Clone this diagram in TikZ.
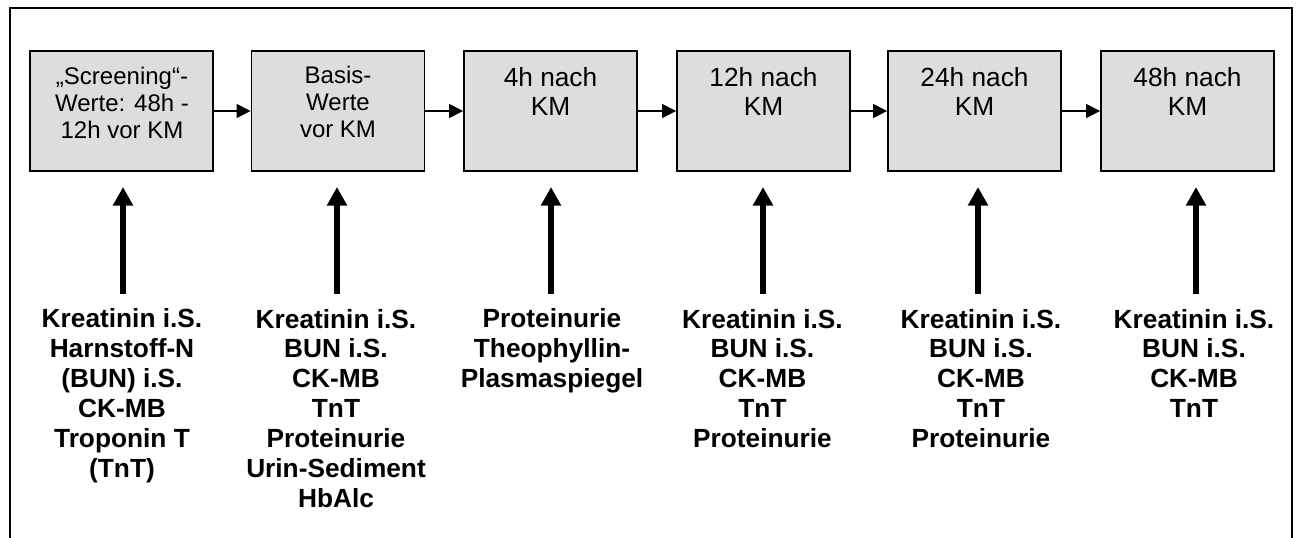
\documentclass[tikz,border=0pt]{standalone}
\usepackage{fontspec}
\setmainfont{Liberation Sans}
\usetikzlibrary{arrows.meta}
\definecolor{boxgray}{RGB}{221,221,221}
\begin{document}
\begin{tikzpicture}[x=0.75pt,y=-0.75pt,
  stage/.style={draw=black, line width=1.4pt, fill=boxgray, minimum width=129.75pt, minimum height=90pt, inner sep=0pt},
  bigtxt/.style={anchor=base, align=center, font=\fontsize{19.7pt}{22pt}\selectfont},
  smalltxt/.style={anchor=base, align=center, font=\fontsize{18pt}{20.25pt}\selectfont},
  measure/.style={anchor=base, align=center, font=\fontsize{19.7pt}{22.4pt}\selectfont\bfseries},
  flow/.style={line width=1.1pt, -{Triangle[length=10.5pt,width=10.5pt]}},
  feed/.style={line width=5.2pt, -{Triangle[length=14pt,width=14.5pt]}},
  frame/.style={line width=1.5pt}]
\useasboundingbox (0,0) rectangle (1298,537);
% outer frame (open at bottom)
\coordinate (fbl) at (10,538);
\coordinate (ftl) at (10,8);
\coordinate (ftr) at (1292,8);
\coordinate (fbr) at (1292,538);
\draw[frame] (fbl) -- (ftl) -- (ftr) -- (fbr);
% stage boxes
\node[stage, minimum width=137.25pt] (b1) at (121.5,111) {};
\node[stage] (b2) at (338,111) {};
\node[stage] (b3) at (550.5,111) {};
\node[stage] (b4) at (763.5,111) {};
\node[stage] (b5) at (974.5,111) {};
\node[stage] (b6) at (1187.5,111) {};
% box texts (anchor = baseline of last line)
\node[smalltxt] (t1) at (122,138) {„Screening“-\\Werte: 48h -\\12h vor KM};
\node[smalltxt] (t2) at (338,137.5) {Basis-\\Werte\\vor KM};
\node[bigtxt] (t3) at (550.5,115.8) {4h nach\\KM};
\node[bigtxt] (t4) at (763.5,115.8) {12h nach\\KM};
\node[bigtxt] (t5) at (974.5,115.8) {24h nach\\KM};
\node[bigtxt] (t6) at (1187.5,115.8) {48h nach\\KM};
% flow arrows
\draw[flow] (b1) -- (b2);
\draw[flow] (b2) -- (b3);
\draw[flow] (b3) -- (b4);
\draw[flow] (b4) -- (b5);
\draw[flow] (b5) -- (b6);
% measurement labels (anchor = baseline of last line)
\node[measure] (m1) at (122,477.3) {Kreatinin i.S.\\Harnstoff-N\\(BUN) i.S.\\CK-MB\\Troponin T\\(TnT)};
\node[measure] (m2) at (336,507.2) {Kreatinin i.S.\\BUN i.S.\\CK-MB\\TnT\\Proteinurie\\Urin-Sediment\\HbAlc};
\node[measure] (m3) at (552,387.7) {Proteinurie\\Theophyllin-\\Plasmaspiegel};
\node[measure] (m4) at (762.5,447.5) {Kreatinin i.S.\\BUN i.S.\\CK-MB\\TnT\\Proteinurie};
\node[measure] (m5) at (981,447.5) {Kreatinin i.S.\\BUN i.S.\\CK-MB\\TnT\\Proteinurie};
\node[measure] (m6) at (1194,417.6) {Kreatinin i.S.\\BUN i.S.\\CK-MB\\TnT};
% feed arrows
\foreach \i/\x in {1/123,2/337,3/551,4/763,5/978,6/1196}{
  \coordinate (s\i) at (\x,294);
  \coordinate (e\i) at (\x,187);
  \draw[feed] (s\i) -- (e\i);
}
\end{tikzpicture}
\end{document}
